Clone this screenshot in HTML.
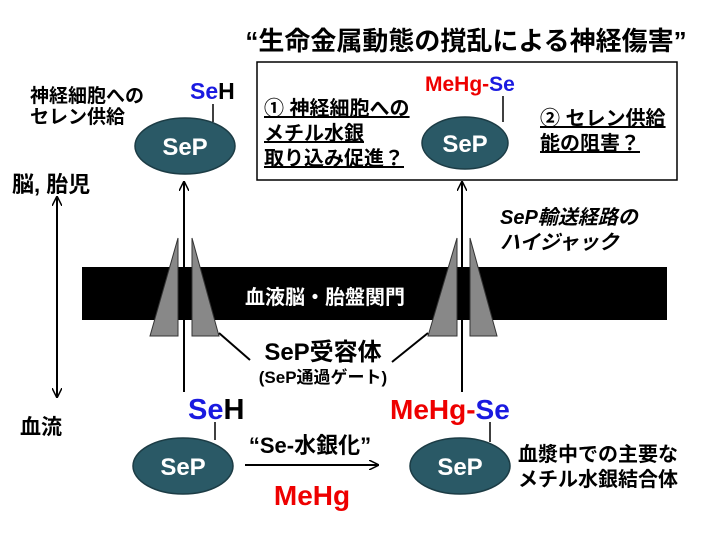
<!DOCTYPE html>
<html><head><meta charset="utf-8"><style>body{margin:0;background:#fff}svg{display:block}text{font-family:"Liberation Sans","Noto Sans CJK JP",sans-serif;font-weight:bold}</style></head><body>
<svg width="720" height="540" viewBox="0 0 720 540" xmlns="http://www.w3.org/2000/svg">
<defs><marker id="a" markerWidth="10" markerHeight="10" refX="9" refY="5" orient="auto" markerUnits="userSpaceOnUse"><path d="M0,0 L10,5 L0,10" fill="none" stroke="#000" stroke-width="1.5"/></marker></defs>
<text x="466" y="50" font-size="26" text-anchor="middle">“生命金属動態の撹乱による神経傷害”</text>
<rect x="257" y="62" width="420" height="118" fill="none" stroke="#000" stroke-width="1.5"/>
<g font-size="20" text-decoration="underline">
<text x="264" y="115">① 神経細胞への</text><text x="264" y="140">メチル水銀</text><text x="264" y="165">取り込み促進？</text>
<text x="540" y="125">② セレン供給</text><text x="540" y="150">能の阻害？</text></g>
<text x="425" y="91" font-size="21"><tspan fill="#e00">MeHg-</tspan><tspan fill="#1a1ae0">Se</tspan></text>
<line x1="503" y1="96" x2="503" y2="122" stroke="#000" stroke-width="1.5"/>
<ellipse cx="465" cy="143" rx="43" ry="26" fill="#2a5966" stroke="#1c3c45" stroke-width="1.5"/>
<text x="465" y="152" font-size="24" fill="#fff" text-anchor="middle">SeP</text>
<text x="30" y="102" font-size="19">神経細胞への</text><text x="30" y="123" font-size="19">セレン供給</text>
<text x="190" y="99" font-size="23"><tspan fill="#1a1ae0">Se</tspan>H</text>
<line x1="213" y1="104" x2="213" y2="122" stroke="#000" stroke-width="1.5"/>
<ellipse cx="185" cy="146" rx="50" ry="28" fill="#2a5966" stroke="#1c3c45" stroke-width="1.5"/>
<text x="185" y="155" font-size="24" fill="#fff" text-anchor="middle">SeP</text>
<text x="12" y="192" font-size="22">脳, 胎児</text>
<line x1="57" y1="395" x2="57" y2="197" stroke="#000" stroke-width="2" marker-end="url(#a)"/>
<line x1="57" y1="200" x2="57" y2="397" stroke="#000" stroke-width="2" marker-end="url(#a)"/>
<text x="20" y="434" font-size="21">血流</text>
<rect x="82" y="267" width="585" height="53" fill="#000"/>
<text x="325" y="304" font-size="20" fill="#fff" text-anchor="middle">血液脳・胎盤関門</text>
<g fill="#888" stroke="#333" stroke-width="1">
<polygon points="150,336 178,336 178,238"/><polygon points="192,238 192,336 219,336"/>
<polygon points="428,336 457,336 457,238"/><polygon points="470,238 470,336 497,336"/></g>
<line x1="184" y1="392" x2="184" y2="182" stroke="#000" stroke-width="2" marker-end="url(#a)"/>
<line x1="462" y1="392" x2="462" y2="182" stroke="#000" stroke-width="2" marker-end="url(#a)"/>
<line x1="219" y1="333" x2="250" y2="360" stroke="#000" stroke-width="2"/>
<line x1="428" y1="333" x2="392" y2="362" stroke="#000" stroke-width="2"/>
<text x="323" y="360" font-size="24" text-anchor="middle">SeP受容体</text>
<text x="323" y="383" font-size="17" text-anchor="middle">(SeP通過ゲート)</text>
<text x="500" y="224" font-size="20" font-style="italic">SeP輸送経路の</text>
<text x="500" y="249" font-size="20" font-style="italic">ハイジャック</text>
<text x="188" y="419" font-size="29"><tspan fill="#1a1ae0">Se</tspan>H</text>
<line x1="215" y1="422" x2="215" y2="440" stroke="#000" stroke-width="1.5"/>
<ellipse cx="183" cy="466" rx="50" ry="28" fill="#2a5966" stroke="#1c3c45" stroke-width="1.5"/>
<text x="183" y="475" font-size="24" fill="#fff" text-anchor="middle">SeP</text>
<text x="390" y="419" font-size="28" fill="#e00">MeHg-<tspan fill="#1a1ae0">Se</tspan></text>
<line x1="490" y1="422" x2="490" y2="442" stroke="#000" stroke-width="1.5"/>
<ellipse cx="460" cy="466" rx="50" ry="28" fill="#2a5966" stroke="#1c3c45" stroke-width="1.5"/>
<text x="460" y="475" font-size="24" fill="#fff" text-anchor="middle">SeP</text>
<text x="310" y="453" font-size="22" text-anchor="middle">“Se-水銀化”</text>
<line x1="245" y1="465" x2="378" y2="465" stroke="#000" stroke-width="2" marker-end="url(#a)"/>
<text x="312" y="505" font-size="28" fill="#e00" text-anchor="middle">MeHg</text>
<text x="518" y="461" font-size="20">血漿中での主要な</text>
<text x="518" y="486" font-size="20">メチル水銀結合体</text>
</svg></body></html>
